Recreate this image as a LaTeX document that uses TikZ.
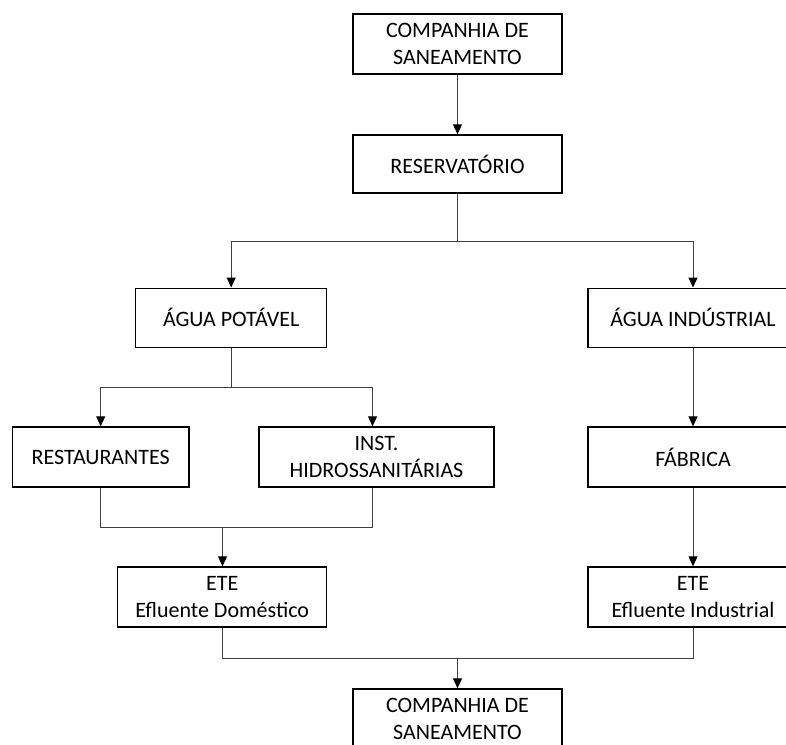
\documentclass[tikz,border=0pt]{standalone}
\usepackage{fontspec}
\setmainfont{Carlito}
\usetikzlibrary{arrows.meta,calc}
\begin{document}
\begin{tikzpicture}[x=1pt,y=-1pt,
  box/.style={draw=black,line width=1.4pt,fill=white,align=center,inner sep=0pt,
    font=\fontsize{22}{26.5}\selectfont},
  conn/.style={draw=black!75,line width=1pt},
  arr/.style={conn,-{Triangle[width=9pt,length=10pt,color=black]}}]
\useasboundingbox (0,0) rectangle (786,744);
\clip (0,0) rectangle (786,744);
\fill[white] (0,0) rectangle (786,744);
% nodes
\node[box,minimum width=209pt,minimum height=60pt] (top) at (457.5,44) {COMPANHIA DE\\SANEAMENTO};
\node[box,minimum width=209pt,minimum height=58pt] (res) at (457.5,164) {RESERVATÓRIO};
\node[box,minimum width=191pt,minimum height=59pt] (pot) at (231.2,317.7) {ÁGUA POTÁVEL};
\node[box,minimum width=210pt,minimum height=59pt] (ind) at (693,317.7) {ÁGUA INDÚSTRIAL};
\node[box,minimum width=176.7pt,minimum height=60pt] (rest) at (100.7,457) {RESTAURANTES};
\node[box,minimum width=235pt,minimum height=60pt] (inst) at (376.5,457) {INST.\\HIDROSSANITÁRIAS};
\node[box,minimum width=210pt,minimum height=60pt] (fab) at (693,457) {FÁBRICA};
\node[box,minimum width=209pt,minimum height=60pt] (eted) at (222.2,597) {ETE\\Efluente Doméstico};
\node[box,minimum width=210pt,minimum height=60pt] (etei) at (693,597) {ETE\\Efluente Industrial};
\node[box,minimum width=209pt,minimum height=60pt] (bot) at (457.5,719) {COMPANHIA DE\\SANEAMENTO};
% junction coordinates
\coordinate (j1) at (457.5,241);
\coordinate (j2) at (231.2,387.3);
\coordinate (j3) at (222.5,527.3);
\coordinate (j4) at (457.5,658.3);
% connectors
\draw[arr] (top.south) -- (res.north);
\draw[conn] (res.south) -- (j1);
\draw[arr] (j1) -| (pot.north);
\draw[arr] (j1) -| (ind.north);
\draw[conn] (pot.south) -- (j2);
\draw[arr] (j2) -| (rest.north);
\draw[arr] (j2) -| ($(inst.north)+(-4,0)$);
\draw[conn] (rest.south) |- (j3);
\draw[conn] ($(inst.south)+(-4,0)$) |- (j3);
\draw[arr] (j3) -- (j3 |- eted.north);
\draw[arr] (ind.south) -- (fab.north);
\draw[arr] (fab.south) -- (etei.north);
\draw[conn] (eted.south) |- (j4);
\draw[conn] (etei.south) |- (j4);
\draw[arr] (j4) -- (bot.north);
\end{tikzpicture}
\end{document}
